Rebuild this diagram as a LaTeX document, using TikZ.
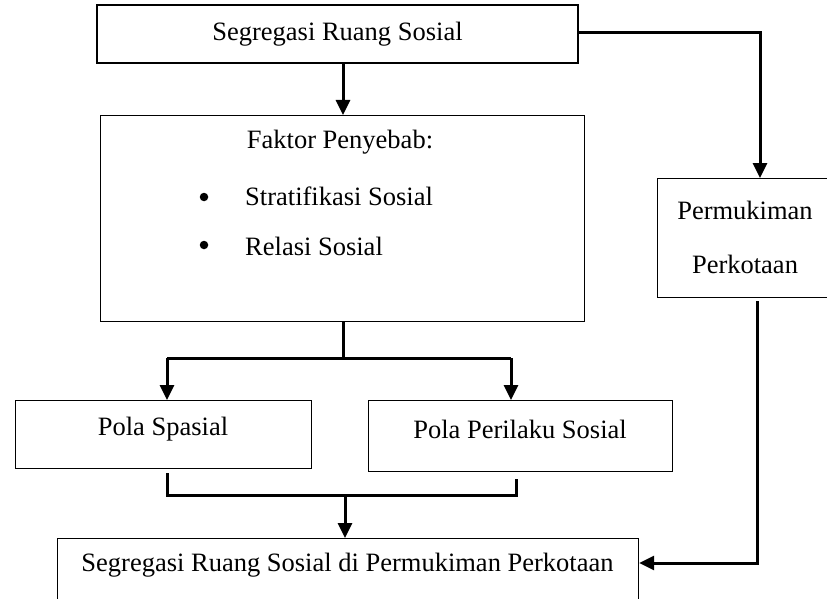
\documentclass[tikz,border=0pt]{standalone}
\usepackage{fontspec}
\setmainfont{Liberation Serif}
\usetikzlibrary{arrows.meta}
\begin{document}
\begin{tikzpicture}[x=1pt,y=-1pt,
  font=\fontsize{26.5}{32}\selectfont,
  box/.style={draw, line width=1.2pt, fill=white, inner sep=0pt},
  txt/.style={inner sep=0pt},
  dot/.style={circle, fill=black, inner sep=0pt, minimum size=8.5pt},
  conn/.style={line width=3pt},
  arr/.style={line width=3pt, -{Triangle[length=15pt,width=14pt]}}]
\useasboundingbox (0,0) rectangle (827,599);
\clip (0,0) rectangle (827,599);
% boxes
\node[box, minimum width=481, minimum height=58] (top) at (337.5,34) {Segregasi Ruang Sosial};
\node[box, minimum width=484, minimum height=206, anchor=north west] (fak) at (100,115) {};
\node[txt] (fakt) at (340,142) {Faktor Penyebab:};
\node[dot] (b1) at (204,197) {};
\node[txt, anchor=west] (s1) at (245,196) {Stratifikasi Sosial};
\node[dot] (b2) at (204,245) {};
\node[txt, anchor=west] (s2) at (245,246) {Relasi Sosial};
\node[box, minimum width=176, minimum height=119, anchor=north west] (perm) at (657,178) {};
\node[txt] (pt1) at (745,210) {Permukiman};
\node[txt] (pt2) at (745,264) {Perkotaan};
\node[box, minimum width=296, minimum height=68, anchor=north west] (ps) at (15,400) {};
\node[txt] (pst) at (163,429) {Pola Spasial};
\node[box, minimum width=304, minimum height=71, anchor=north west] (pp) at (368,400) {};
\node[txt] (ppt) at (520,429) {Pola Perilaku Sosial};
\node[box, minimum width=581, minimum height=80, anchor=north west] (bot) at (57,538) {};
\node[txt] (bott) at (347.5,565) {Segregasi Ruang Sosial di Permukiman Perkotaan};
% connectors
\coordinate (j1) at (343,358);
\coordinate (a1) at (167,358);
\coordinate (a2) at (511,358);
\draw[arr] (top.south -| j1) -- (fak.north -| j1);
\draw[conn] (fak.south -| j1) -- (j1);
\draw[conn] (a1) -- (a2);
\draw[arr] (a1) -- (ps.north -| a1);
\draw[arr] (a2) -- (pp.north -| a2);
\coordinate (m1) at (167,495);
\coordinate (m2) at (516,495);
\coordinate (j2) at (345,495);
\draw[conn] ([yshift=-4pt]ps.south -| m1) -- (m1) -- (m2) -- ([yshift=-7pt]pp.south -| m2);
\draw[arr] (j2) -- (bot.north -| j2);
\coordinate (r1) at (760,33);
\draw[arr] (top.east |- r1) -- (r1) -- (perm.north -| r1);
\coordinate (r2) at (757,563);
\draw[arr] ([yshift=-3pt]perm.south -| r2) -- (r2) -- (bot.east |- r2);
\end{tikzpicture}
\end{document}
